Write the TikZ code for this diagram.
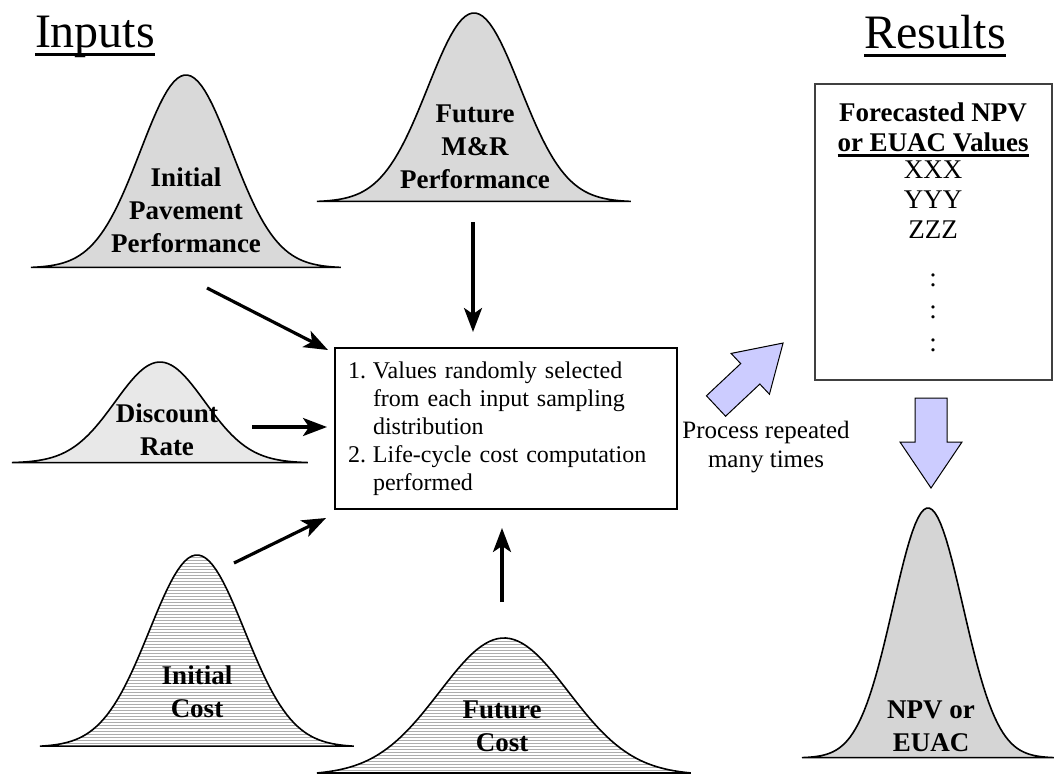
\documentclass[tikz,border=0pt]{standalone}
\usepackage{fontspec}
\setmainfont{Liberation Serif}
\usetikzlibrary{arrows.meta, positioning}

\definecolor{bellgray}{HTML}{D9D9D9}
\definecolor{palegray}{HTML}{E8E8E8}
\definecolor{npvgray}{HTML}{D5D5D5}
\definecolor{stripegray}{HTML}{ADADAD}
\definecolor{blockblue}{HTML}{CCCCFF}

% text with a rule at a fixed distance below the baseline
\newcommand{\ultext}[3]{\setbox0=\hbox{#3}\rlap{\vrule width\wd0 height -#1 depth \dimexpr#1+#2\relax}\box0}

\tikzset{
  bell/.style={draw=black, line width=0.8pt},
  stripes/.style={fill=white, path picture={
      \foreach \yy in {500,503,...,776}
        \draw[stripegray, line width=0.5pt] (0,\yy) -- (1054,\yy);}},
  belllabel/.style={font=\fontsize{13.5}{16.5}\selectfont\bfseries, align=center, inner sep=0pt},
  heading/.style={font=\fontsize{24}{28}\selectfont, anchor=base, inner sep=0pt},
  procbox/.style={draw, line width=0.6pt, minimum width=171pt, minimum height=80.5pt,
    text width=158pt, inner xsep=6.5pt, align=left, font=\fontsize{12}{14}\selectfont},
  resbox/.style={draw=black!75, line width=0.6pt, minimum width=118.5pt, minimum height=148pt},
  restext/.style={font=\fontsize{13.5}{15}\selectfont, inner sep=0pt},
  flow/.style={-{Stealth[length=12pt, width=9pt, inset=3pt]}, line width=1.6pt},
  blockarrow/.style={draw=black, line width=0.5pt, fill=blockblue, line join=miter}
}

\begin{document}
\begin{tikzpicture}[x=0.5pt, y=-0.5pt]
    \useasboundingbox (0,0) rectangle (1054,776);

    % Headings
    \node[heading] (inputs) at (95,47) {\ultext{3.2pt}{1.5pt}{Inputs}};
    \node[heading] (results) at (935,48) {\ultext{3.2pt}{1.5pt}{Results}};

    % Input distributions
    \draw[bell, fill=bellgray] plot[domain=-1:1, samples=90]
        ({186+155*\x}, {268-193*exp(-0.5*(3.4*\x)*(3.4*\x))}) -- cycle;
    \node[belllabel] (ipp) at (186,210) {Initial\\Pavement\\Performance};

    \draw[bell, fill=bellgray] plot[domain=-1:1, samples=90]
        ({474+157*\x}, {202-189*exp(-0.5*(3.4*\x)*(3.4*\x))}) -- cycle;
    \node[belllabel] (fmr) at (475,147) {Future\\M\&R\\Performance};

    \draw[bell, fill=palegray] plot[domain=-1:1, samples=90]
        ({160+148*\x}, {463-101*exp(-0.5*(3.3*\x)*(3.3*\x))}) -- cycle;
    \node[belllabel] (disc) at (167,430) {Discount\\Rate};

    \draw[bell, stripes] plot[domain=-1:1, samples=90]
        ({197+157*\x}, {747-192*exp(-0.5*(3.3*\x)*(3.3*\x))}) -- cycle;
    \node[belllabel] (icost) at (197,692) {Initial\\Cost};

    \draw[bell, stripes] plot[domain=-1:1, samples=90]
        ({504+187*\x}, {775-137*exp(-0.5*(2.9*\x)*(2.9*\x))}) -- cycle;
    \node[belllabel] (fcost) at (502,726) {Future\\Cost};

    % Simulation step
    \node[procbox] (proc) at (506,428.5) {%
        \begin{tabular}{@{}l@{\hspace{3.5pt}}l@{}}
        1. & Values randomly selected\\
           & from each input sampling\\
           & distribution\\
        2. & Life-cycle cost computation\\
           & performed
        \end{tabular}};

    \coordinate (ipp-out) at (207,288);
    \coordinate (ipp-in) at (328,350);
    \coordinate (disc-out) at (252,427);
    \coordinate (disc-in) at (327,427);
    \coordinate (icost-out) at (234,563);
    \coordinate (icost-in) at (326,518);
    \coordinate (fmr-out) at (473,222);
    \coordinate (fmr-in) at (473,332);
    \coordinate (fcost-out) at (502,602);
    \coordinate (fcost-in) at (502,528);

    \draw[flow] (ipp-out) -- (ipp-in);
    \draw[flow] (disc-out) -- (disc-in);
    \draw[flow] (icost-out) -- (icost-in);
    \draw[flow] (fmr-out) -- (fmr-in);
    \draw[flow] (fcost-out) -- (fcost-in);

    % Repetition
    \draw[blockarrow, shift={(716,406)}, rotate=43.2]
        (0,-14) -- (47,-14) -- (47,-28) -- (92,0) -- (47,28) -- (47,14) -- (0,14) -- cycle;
    \node[font=\fontsize{12.5}{14.5}\selectfont, align=center] (repeat) at (766,447)
        {Process repeated\\many times};

    % Results
    \node[resbox] (list) at (933.5,232) {};
    \node[restext, font=\fontsize{13.5}{15}\selectfont\bfseries] (fc1) at (933,112) {Forecasted NPV};
    \node[restext, font=\fontsize{13.5}{15}\selectfont\bfseries, anchor=base] (fc2) at (933,151)
        {\ultext{1.65pt}{1.4pt}{or EUAC Values}};
    \node[restext] (xxx) at (933,170) {XXX};
    \node[restext] (yyy) at (933,200) {YYY};
    \node[restext] (zzz) at (933,230) {ZZZ};
    \node[restext] (dots1) at (933,280) {:};
    \node[restext] (dots2) at (933,312) {:};
    \node[restext] (dots3) at (933,345) {:};

    \draw[blockarrow] (915,398) -- (947,398) -- (947,442) -- (962,442) -- (931,488)
        -- (900,442) -- (915,442) -- cycle;

    \draw[bell, fill=npvgray] plot[domain=-1:1, samples=90]
        ({928+126*\x}, {758-250*exp(-0.5*(3.6*\x)*(3.6*\x))}) -- cycle;
    \node[belllabel] (npv) at (931,726) {NPV or\\EUAC};
\end{tikzpicture}
\end{document}
